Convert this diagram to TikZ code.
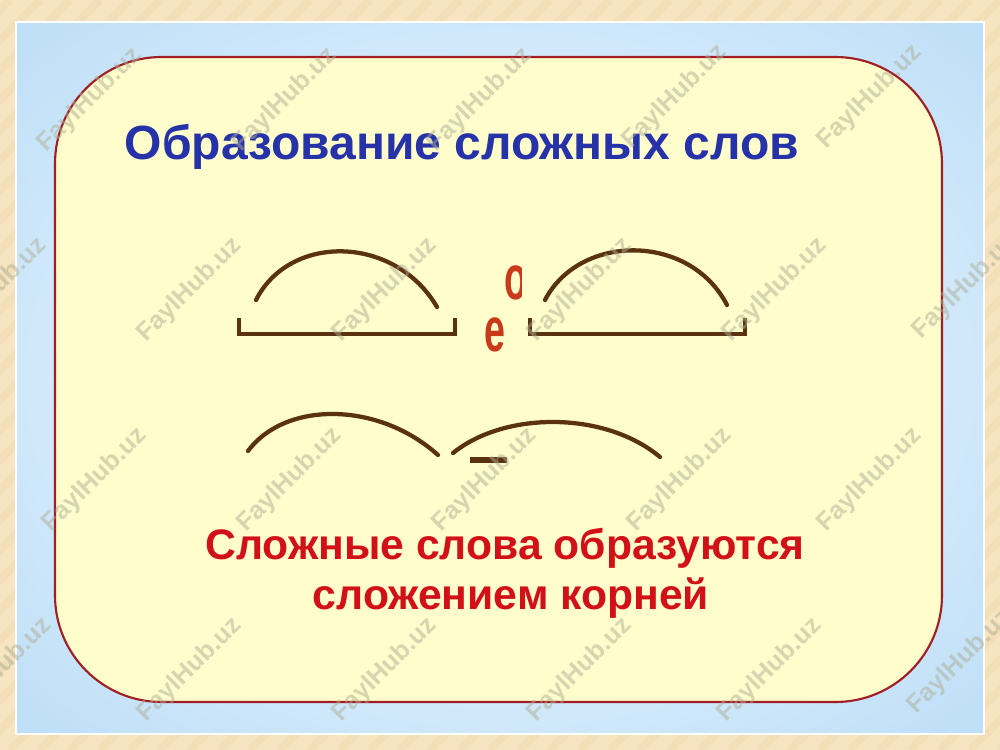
\documentclass[tikz,border=0pt]{standalone}
\usepackage{fontspec}
\setmainfont{Liberation Sans}
\definecolor{bgbeige}{RGB}{246,229,192}
\definecolor{bgstripe}{RGB}{236,214,168}
\definecolor{panelin}{RGB}{238,247,253}
\definecolor{panelmid}{RGB}{208,232,250}
\definecolor{panelout}{RGB}{145,200,240}
\definecolor{cardfill}{RGB}{255,253,204}
\definecolor{cardline}{RGB}{160,30,36}
\definecolor{titleblue}{RGB}{38,50,168}
\definecolor{arcbrown}{RGB}{90,50,16}
\definecolor{letterred}{RGB}{200,58,26}
\definecolor{textred}{RGB}{210,16,24}
\definecolor{wmark}{RGB}{175,175,150}
\pgfdeclareradialshading{panelshade}{\pgfpoint{0bp}{0bp}}{color(0bp)=(panelin); color(24bp)=(panelmid); color(62bp)=(panelout); color(80bp)=(panelout)}
\tikzset{
  arcline/.style={draw=arcbrown, line width=3.2pt, line cap=round},
  bracketline/.style={draw=arcbrown, line width=3pt, line cap=butt, line join=miter},
  letter/.style={text=letterred, font=\bfseries\fontsize{47}{47}\selectfont, inner sep=0pt, xscale=0.6},
  wm/.style={text=wmark, opacity=0.5, rotate=45, font=\bfseries\fontsize{19}{19}\selectfont, inner sep=0pt},
  redtext/.style={text=textred, font=\bfseries\fontsize{32}{32}\selectfont, inner sep=0pt}
}
\begin{document}
\begin{tikzpicture}[x=0.75pt,y=-0.75pt]
\useasboundingbox (0,0) rectangle (1000,750);
% background
\fill[bgbeige] (0,0) rectangle (1000,750);
\begin{scope}
\clip (0,0) rectangle (1000,750);
\foreach \i in {-800,-770,...,1000}
  \draw[bgstripe, line width=6pt, opacity=0.35] (\i,750) -- ({\i+750},0);
\end{scope}
% blue panel
\shade[shading=panelshade] (16,22) rectangle (984,734);
\draw[white, line width=1.2pt] (16,22) rectangle (984,734);
% card
\draw[cardline, line width=1.6pt, fill=cardfill, rounded corners=80pt] (55,57) rectangle (942,702);
% title
\node[text=titleblue, font=\bfseries\fontsize{36}{36}\selectfont, inner sep=0pt] (title) at (462,147) {Образование сложных слов};
% top row arcs and brackets
\draw[arcline] (256,300) .. controls (290,233) and (395,235) .. (437,307);
\draw[bracketline] (239,318) -- (239,334) -- (455,334) -- (455,318);
\draw[arcline] (545,300) .. controls (580,233) and (690,233) .. (727,305);
\draw[bracketline] (530,318) -- (530,334) -- (745,334) -- (745,318);
% letters
\begin{scope}
\clip (480,250) rectangle (521,310);
\node[letter] (o) at (516,283) {о};
\end{scope}
\node[letter] (e) at (495,335) {е};
% bottom row arcs
\draw[arcline] (248,451) .. controls (285,401) and (378,401) .. (438,455);
\draw[arcline] (453,453) .. controls (505,411) and (605,411) .. (660,457);
\draw[draw=arcbrown, line width=3.8pt] (470,460) -- (507,460);
% red text
\node[redtext] (line1) at (505,548) {Сложные слова образуются};
\node[redtext] (line2) at (511,598) {сложением корней};
% watermarks
\foreach \x/\y [count=\k] in {90/100,285/100,480/100,675/97,870/97,
  -5/290,190/290,385/290,580/290,775/290,965/287,
  95/480,290/480,485/480,680/480,870/480,
  0/670,190/670,385/670,580/670,770/670,960/662}
  \node[wm] (wm\k) at (\x,\y) {FaylHub.uz};
\end{tikzpicture}
\end{document}
